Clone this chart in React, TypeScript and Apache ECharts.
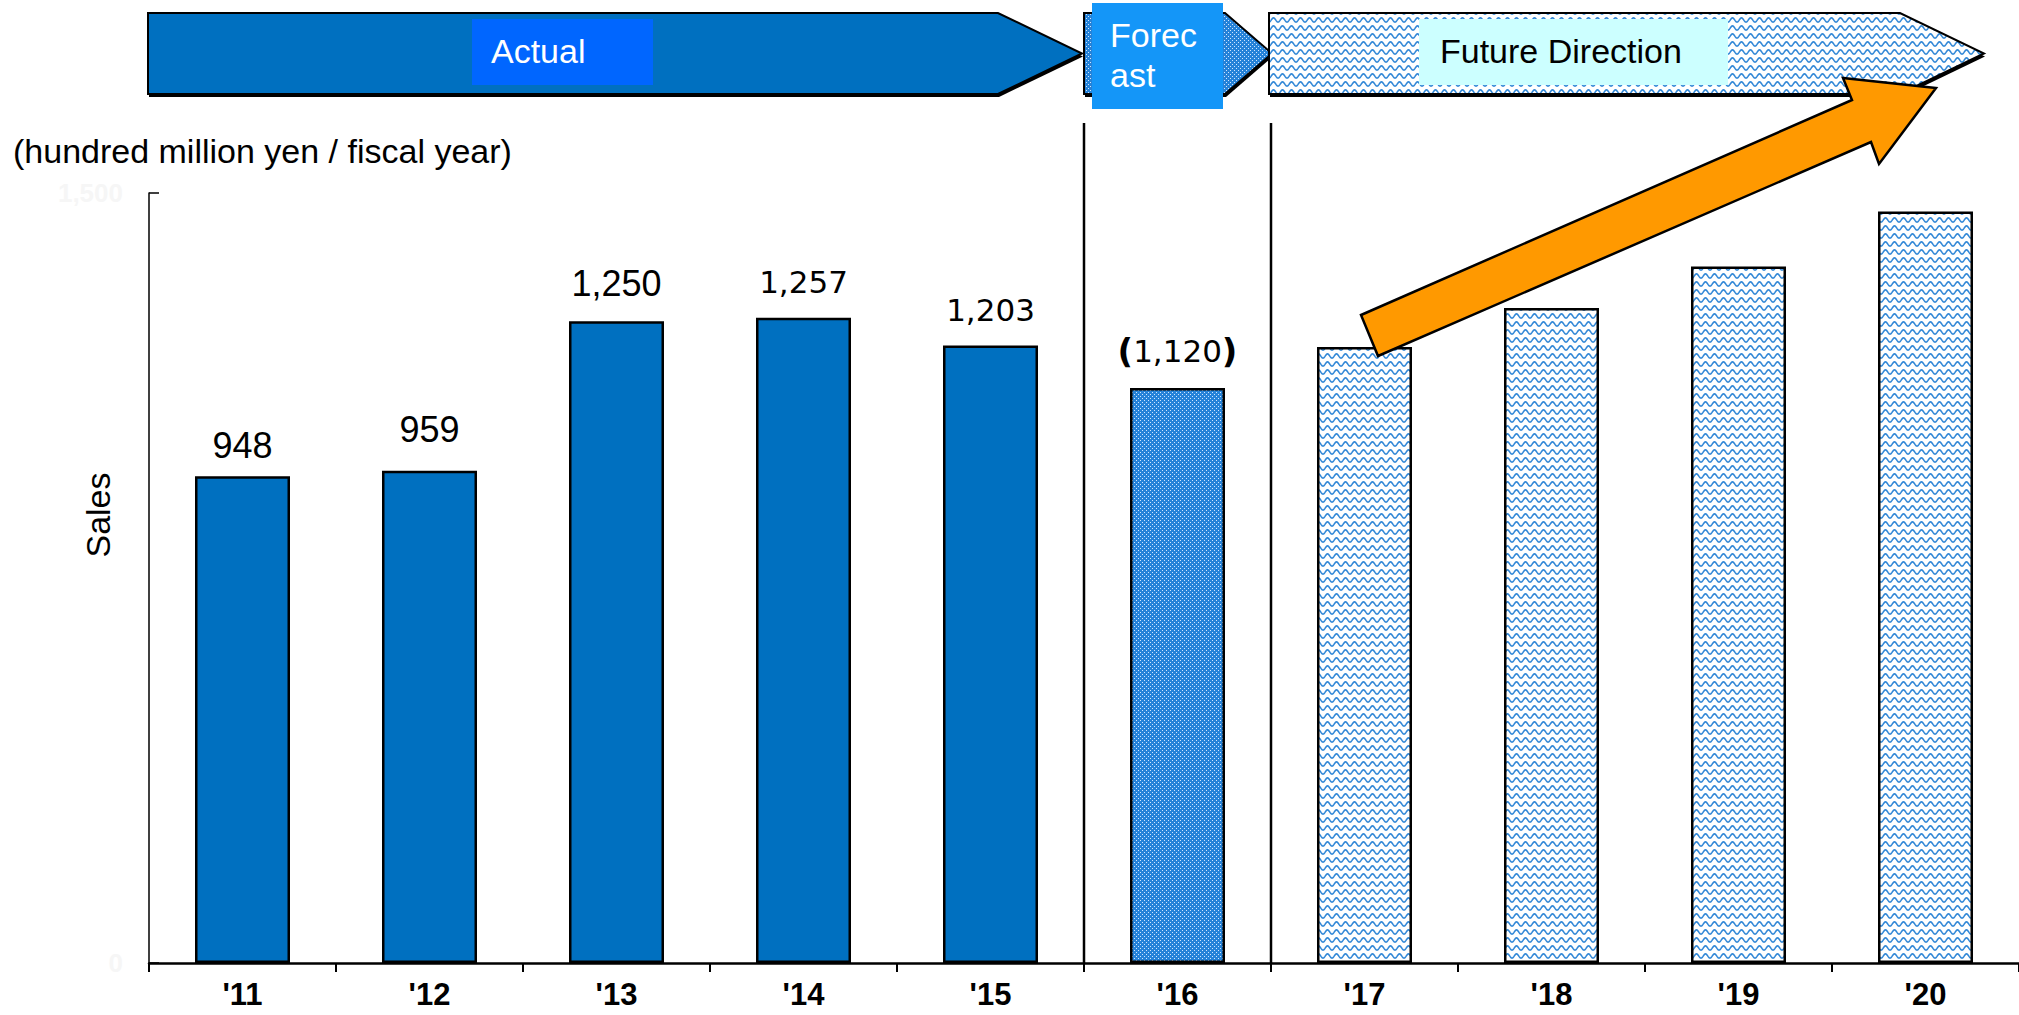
import React, { useEffect, useRef } from 'react';
import * as echarts from 'echarts';

// ---- data ----
const categories = ["'11", "'12", "'13", "'14", "'15", "'16", "'17", "'18", "'19", "'20"];
const actualSales = [948, 959, 1250, 1257, 1203];
const forecastSales = [1120];
const directionSales = [1200, 1276, 1357, 1464];
const yAxisMin = 0;
const yAxisMax = 1500;
const phaseTitles = ['Actual', 'Forec\nast', 'Future Direction'];
const unitText = '(hundred million yen / fiscal year)';
const yAxisTitle = 'Sales';

function wavePattern(): HTMLCanvasElement {
  const c = document.createElement('canvas');
  c.width = 9;
  c.height = 8;
  const g = c.getContext('2d')!;
  g.fillStyle = '#ffffff';
  g.fillRect(0, 0, 9, 8);
  g.strokeStyle = '#2f86d6';
  g.lineWidth = 1.6;
  g.beginPath();
  for (let i = 0; i <= 18; i++) {
    const x = i * 0.5;
    const y = 4 + 2.1 * Math.cos((2 * Math.PI * x) / 9);
    if (i === 0) g.moveTo(x, y);
    else g.lineTo(x, y);
  }
  g.stroke();
  return c;
}

function dotPattern(): HTMLCanvasElement {
  const c = document.createElement('canvas');
  c.width = 4;
  c.height = 4;
  const g = c.getContext('2d')!;
  g.fillStyle = '#2582d8';
  g.fillRect(0, 0, 4, 4);
  g.fillStyle = '#cfe6ff';
  g.fillRect(0, 0, 1, 1);
  g.fillRect(2, 2, 1, 1);
  return c;
}

const fmt = (v: number) => v.toLocaleString('en-US');

export default function App() {
  const ref = useRef<HTMLDivElement>(null);

  useEffect(() => {
    const chart = echarts.init(ref.current!, null, { renderer: 'svg' });
    const wave = { image: wavePattern(), repeat: 'repeat', imageWidth: 9, imageHeight: 8 } as any;
    const dots = { image: dotPattern(), repeat: 'repeat', imageWidth: 4, imageHeight: 4 } as any;

    const actualDistances = [13, 23, 20, 20, 20];
    const data: any[] = [];
    actualSales.forEach((v, i) => {
      const arial = i < 3;
      data.push({
        value: v,
        itemStyle: { color: '#0070C0' },
        label: {
          show: true,
          distance: actualDistances[i],
          fontFamily: arial ? 'Liberation Sans, Arial, sans-serif' : 'DejaVu Sans, sans-serif',
          fontSize: arial ? 36 : 31,
        },
      });
    });
    forecastSales.forEach((v) => {
      data.push({
        value: v,
        itemStyle: { color: dots },
        label: { show: true, distance: 20, fontFamily: 'DejaVu Sans, sans-serif', fontSize: 31 },
      });
    });
    directionSales.forEach((v) => {
      data.push({ value: v, itemStyle: { color: wave }, label: { show: false } });
    });

    const option: any = {
      animation: false,
      backgroundColor: '#ffffff',
      textStyle: { fontFamily: 'Liberation Sans, Arial, sans-serif' },
      grid: { left: 149, right: -9, top: 193, bottom: 52, containLabel: false },
      xAxis: {
        type: 'category',
        data: categories,
        boundaryGap: true,
        axisLine: { show: true, lineStyle: { color: '#000', width: 2.5 } },
        axisTick: { show: true, inside: false, length: 9, lineStyle: { color: '#000', width: 2 } },
        axisLabel: {
          color: '#000',
          fontSize: 31,
          lineHeight: 31,
          fontWeight: 'bold',
          fontFamily: 'Liberation Sans Narrow, Liberation Sans, Arial, sans-serif',
          margin: 16,
        },
        splitLine: { show: false },
      },
      yAxis: {
        type: 'value',
        min: yAxisMin,
        max: yAxisMax,
        interval: yAxisMax,
        axisLine: { show: true, lineStyle: { color: '#000', width: 1.5 } },
        axisTick: { show: true, inside: true, length: 10, lineStyle: { color: '#000', width: 1.5 } },
        axisLabel: {
          color: '#f6f6f6',
          fontSize: 26,
          fontWeight: 'bold',
          margin: 26,
          formatter: (v: number) => fmt(v),
        },
        splitLine: { show: false },
      },
      series: [
        {
          type: 'bar',
          data,
          barWidth: 95,
          itemStyle: { borderColor: '#000', borderWidth: 2.5 },
          label: {
            show: true,
            position: 'top',
            color: '#000',
            formatter: (p: any) => {
              const s = fmt(p.value);
              return p.dataIndex === actualSales.length ? '{p|(}' + s + '{p|)}' : s;
            },
            rich: {
              p: { fontWeight: 'bold', fontSize: 34, fontFamily: 'DejaVu Sans, sans-serif', color: '#000' },
            },
          },
          z: 2,
        },
      ],
    };
    chart.setOption(option);

    const px = (c: string) => chart.convertToPixel({ xAxisIndex: 0 }, c) as number;
    const half = (px(categories[1]) - px(categories[0])) / 2;
    const fcIdx = actualSales.length;
    const div1 = px(categories[fcIdx]) - half;
    const div2 = px(categories[fcIdx]) + half;
    const yBase = chart.convertToPixel({ yAxisIndex: 0 }, 0) as number;

    const chevron = (x0: number, x1: number, tip: number, top: number, bot: number) => {
      const mid = (top + bot) / 2;
      return [[x0, top], [x1, top], [tip, mid], [x1, bot], [x0, bot]];
    };
    const shift = (pts: number[][], dx: number, dy: number) => pts.map(([x, y]) => [x + dx, y + dy]);

    const actualPts = chevron(148, 998, 1082, 13, 94);
    const fcPts = chevron(div1, 1225, 1272, 13, 94);
    const futPts = chevron(div2 - 2, 1900, 1984, 13, 94);

    const banner = (pts: number[][], fill: any) => [
      { type: 'polygon', z: 10, shape: { points: shift(pts, 1, 3) }, style: { fill: '#000' }, silent: true },
      { type: 'polygon', z: 11, shape: { points: pts }, style: { fill, stroke: '#000', lineWidth: 2 }, silent: true },
    ];

    const titleFont = { fontSize: 34, fontFamily: 'Liberation Sans, Arial, sans-serif' };
    const [fcLine1, fcLine2] = phaseTitles[1].split('\n');

    const graphic: any[] = [
      {
        type: 'text', z: 20, x: 13, y: 151,
        style: { text: unitText, fill: '#000', verticalAlign: 'middle', align: 'left', ...titleFont },
      },
      {
        type: 'text', z: 20, x: 98, y: 515, rotation: Math.PI / 2,
        style: { text: yAxisTitle, fill: '#000', verticalAlign: 'middle', align: 'center', ...titleFont },
      },
      ...banner(actualPts, '#0070C0'),
      ...banner(fcPts, dots),
      ...banner(futPts, wave),
      { type: 'rect', z: 12, shape: { x: 472, y: 19, width: 181, height: 66 }, style: { fill: '#0066FF' } },
      { type: 'text', z: 13, x: 491, y: 51, style: { text: phaseTitles[0], fill: '#fff', verticalAlign: 'middle', ...titleFont } },
      { type: 'rect', z: 12, shape: { x: 1092, y: 3, width: 131, height: 106 }, style: { fill: '#1496F8' } },
      { type: 'text', z: 13, x: 1110, y: 35, style: { text: fcLine1, fill: '#fff', verticalAlign: 'middle', ...titleFont } },
      { type: 'text', z: 13, x: 1110, y: 75, style: { text: fcLine2, fill: '#fff', verticalAlign: 'middle', ...titleFont } },
      { type: 'rect', z: 12, shape: { x: 1419, y: 19, width: 309, height: 66 }, style: { fill: '#CCFFFF' } },
      { type: 'text', z: 13, x: 1440, y: 51, style: { text: phaseTitles[2], fill: '#000', verticalAlign: 'middle', ...titleFont } },
      { type: 'line', z: 5, shape: { x1: div1, y1: 123, x2: div1, y2: yBase }, style: { stroke: '#000', lineWidth: 2.5 } },
      { type: 'line', z: 5, shape: { x1: div2, y1: 123, x2: div2, y2: yBase }, style: { stroke: '#000', lineWidth: 2.5 } },
      {
        type: 'polygon', z: 30,
        shape: {
          points: [
            [1361, 315], [1852, 100], [1843, 78], [1936, 88], [1879, 164], [1871, 142], [1378, 356],
          ],
        },
        style: { fill: '#FF9900', stroke: '#000', lineWidth: 2.5, lineJoin: 'miter' },
      },
    ];
    chart.setOption({ graphic });

    return () => chart.dispose();
  }, []);

  return (
    <div
      ref={ref}
      style={{ position: 'fixed', left: 0, top: 0, width: 2019, height: 1015, background: '#fff' }}
    />
  );
}
